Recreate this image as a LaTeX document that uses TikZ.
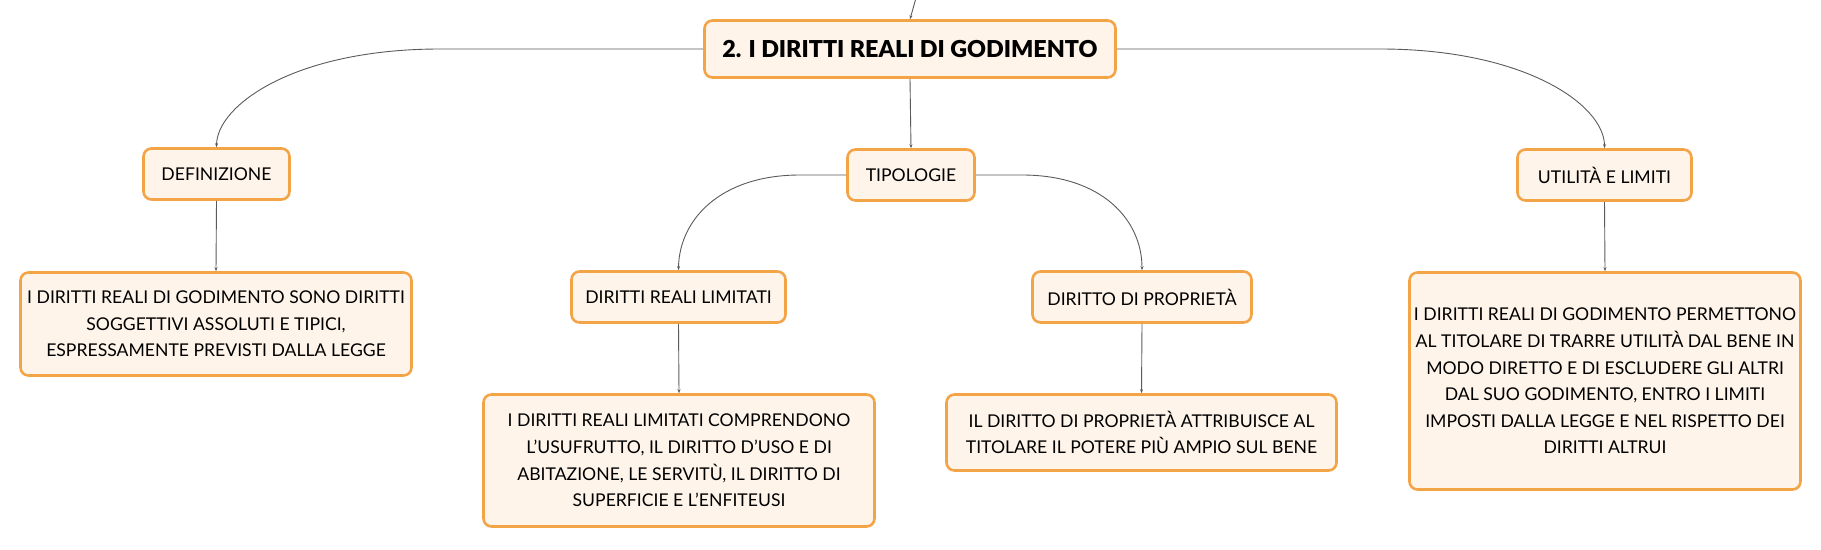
\documentclass[tikz,border=0pt]{standalone}
\usepackage{fontspec}
\setmainfont{Lato}
\newfontfamily\titlefont{Lato Black}
\usetikzlibrary{arrows.meta}
\definecolor{boxline}{HTML}{F3A446}
\definecolor{boxfill}{HTML}{FEF4EA}
\definecolor{conn}{HTML}{5A5A5A}
\tikzset{
  topic/.style={draw=boxline, fill=boxfill, line width=2.6pt, rounded corners=8pt,
    inner sep=0pt, align=center, font=\fontsize{17.6}{26.6}\selectfont, text=black},
  rootbox/.style={topic, font=\fontsize{23.3}{26}\titlefont},
  link/.style={draw=conn, line width=0.9pt, -{Stealth[length=4pt,width=3pt]}}
}
\begin{document}
\begin{tikzpicture}[x=1pt,y=-1pt]
\useasboundingbox (0,0) rectangle (1821,549);
\node[rootbox, minimum width=411pt, minimum height=57pt] (root) at (910,49) {2. I DIRITTI REALI DI GODIMENTO};
\coordinate (above) at (916,-2);
\node[topic, minimum width=127pt, minimum height=51pt] (tip) at (911,175) {TIPOLOGIE};
\node[topic, minimum width=146pt, minimum height=51pt] (def) at (216.5,174) {DEFINIZIONE};
\node[topic, minimum width=391pt, minimum height=103pt] (deft) at (216,324) {I DIRITTI REALI DI GODIMENTO SONO DIRITTI\\SOGGETTIVI ASSOLUTI E TIPICI,\\ESPRESSAMENTE PREVISTI DALLA LEGGE};
\node[topic, minimum width=214pt, minimum height=51pt] (drl) at (678.5,297) {DIRITTI REALI LIMITATI};
\node[topic, minimum width=391pt, minimum height=132pt] (drlt) at (679,460.5) {I DIRITTI REALI LIMITATI COMPRENDONO\\L'USUFRUTTO, IL DIRITTO D'USO E DI\\ABITAZIONE, LE SERVITÙ, IL DIRITTO DI\\SUPERFICIE E L'ENFITEUSI};
\node[topic, minimum width=219pt, minimum height=51pt] (dp) at (1142,297) {DIRITTO DI PROPRIETÀ};
\node[topic, minimum width=390pt, minimum height=76pt] (dpt) at (1141.5,432.5) {IL DIRITTO DI PROPRIETÀ ATTRIBUISCE AL\\TITOLARE IL POTERE PIÙ AMPIO SUL BENE};
\node[topic, minimum width=174pt, minimum height=51pt] (ut) at (1604.5,175) {UTILITÀ E LIMITI};
\node[topic, minimum width=391pt, minimum height=217pt] (utt) at (1605,381) {I DIRITTI REALI DI GODIMENTO PERMETTONO\\AL TITOLARE DI TRARRE UTILITÀ DAL BENE IN\\MODO DIRETTO E DI ESCLUDERE GLI ALTRI\\DAL SUO GODIMENTO, ENTRO I LIMITI\\IMPOSTI DALLA LEGGE E NEL RISPETTO DEI\\DIRITTI ALTRUI};
% connectors
\draw[link] (above) -- (root.north);
\draw[link] (root.south) -- (tip.north);
\draw[link] (root.west) -- (440,49) .. controls (295,49) and (217,105) .. (def.north);
\draw[link] (root.east) -- (1380,49) .. controls (1525,49) and (1604.5,105) .. (ut.north);
\draw[link] (tip.west) -- (800,175) .. controls (720,175) and (679,220) .. (drl.north);
\draw[link] (tip.east) -- (1022,175) .. controls (1102,175) and (1142,220) .. (dp.north);
\draw[link] (def.south) -- (deft.north);
\draw[link] (drl.south) -- (drlt.north);
\draw[link] (dp.south) -- (dpt.north);
\draw[link] (ut.south) -- (utt.north);
\end{tikzpicture}
\end{document}
